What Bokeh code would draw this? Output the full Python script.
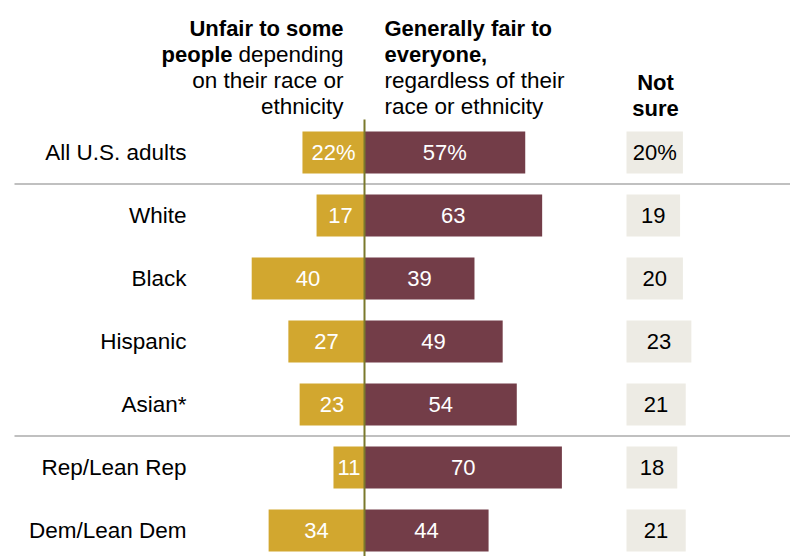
import re
from bokeh.plotting import figure
from bokeh.models import Range1d, ColumnDataSource
from bokeh.core.properties import value
from bokeh.embed import file_html
from bokeh.resources import INLINE

# ---------------- data ----------------
categories = ["All U.S. adults", "White", "Black", "Hispanic", "Asian*",
              "Rep/Lean Rep", "Dem/Lean Dem"]
unfair = [22, 17, 40, 27, 23, 11, 34]
fair = [57, 63, 39, 49, 54, 70, 44]
not_sure = [20, 19, 20, 23, 21, 18, 21]

# ---------------- layout / style ----------------
W, H = 790, 556
PX_PER_UNIT = 2.82
ZERO_PX = 364
ROW0_PX = 152
ROW_PX = 63
BAR_H = 42 / ROW_PX
NS_LEFT_PX = 626

GOLD = "#D2A72F"
MAROON = "#733D48"
NS_BG = "#EDEBE4"
SEP = "#ABABAB"
OLIVE = "#7A792C"
FONT = "Liberation Sans"
FS_NUM = "22px"
FS_LBL = "22.5px"
FS_HB = "22px"
FS_HN = "22.5px"


def X(px):
    return (px - ZERO_PX) / PX_PER_UNIT


def Y(py):
    return (py - ROW0_PX) / ROW_PX


n = len(categories)
rows = list(range(n))
ns_left = X(NS_LEFT_PX)


def lbl(v, i):
    return f"{v}%" if i == 0 else str(v)


src = ColumnDataSource(dict(
    row=rows,
    cat=categories,
    unfair_left=[-v for v in unfair],
    unfair_mid=[-v / 2 for v in unfair],
    unfair_lbl=[lbl(v, i) for i, v in enumerate(unfair)],
    fair=fair,
    fair_mid=[v / 2 for v in fair],
    fair_lbl=[lbl(v, i) for i, v in enumerate(fair)],
    ns_left=[ns_left] * n,
    ns_right=[ns_left + v for v in not_sure],
    ns_mid=[ns_left + v / 2 for v in not_sure],
    ns_lbl=[lbl(v, i) for i, v in enumerate(not_sure)],
))

p = figure(width=W, height=H, x_range=Range1d(X(0), X(W)),
           y_range=Range1d(Y(H), Y(0)), output_backend="svg",
           toolbar_location=None, min_border=0)
p.axis.visible = False
p.grid.visible = False
p.outline_line_color = None
p.background_fill_color = "white"
p.border_fill_color = "white"

# separators
p.segment(x0=[X(14), X(14)], x1=[X(W), X(W)], y0=[0.5, 4.5], y1=[0.5, 4.5],
          line_color=SEP, line_width=1.5)

# bars
p.hbar(y="row", left="unfair_left", right=0, height=BAR_H, fill_color=GOLD,
       line_color=None, source=src)
p.hbar(y="row", left=0, right="fair", height=BAR_H, fill_color=MAROON,
       line_color=None, source=src)
p.hbar(y="row", left="ns_left", right="ns_right", height=BAR_H,
       fill_color=NS_BG, line_color=None, source=src)

# center line
p.segment(x0=[0], x1=[0], y0=[Y(119)], y1=[Y(H)], line_color=OLIVE,
          line_width=2)

# value labels
common = dict(text_font=value(FONT), text_font_size=FS_NUM, text_align="center",
              text_baseline="middle", source=src)
p.text(x="unfair_mid", y="row", text="unfair_lbl", text_color="white", **common)
p.text(x="fair_mid", y="row", text="fair_lbl", text_color="white", **common)
p.text(x="ns_mid", y="row", text="ns_lbl", text_color="black", **common)

# category labels
p.text(x=[X(186)] * n, y=rows, text=categories, text_font=value(FONT),
       text_font_size=FS_LBL, text_align="right", text_baseline="middle",
       text_color="black")

# headers
RA = 343
LA = 384
headers = [
    ("Unfair to some", RA, 28, "right", "bold"),
    ("depending", RA, 54, "right", "normal"),
    ("people", RA - 111, 54, "right", "bold"),
    ("on their race or", RA, 80, "right", "normal"),
    ("ethnicity", RA, 106, "right", "normal"),
    ("Generally fair to", LA, 28, "left", "bold"),
    ("everyone,", LA, 54, "left", "bold"),
    ("regardless of their", LA, 80, "left", "normal"),
    ("race or ethnicity", LA, 106, "left", "normal"),
    ("Not", 655, 82, "center", "bold"),
    ("sure", 655, 108, "center", "bold"),
]
for t, xp, yp, al, st in headers:
    p.text(x=[X(xp)], y=[Y(yp)], text=[t], text_font=value(FONT),
           text_font_size=FS_HB if st == "bold" else FS_HN, text_align=al,
           text_baseline="alphabetic", text_font_style=st, text_color="black")

html = file_html(p, INLINE)
html = re.sub(r"<body([^>]*)>", r'<body\1 style="margin:0">', html, count=1)
open("out.html", "w").write(html)
